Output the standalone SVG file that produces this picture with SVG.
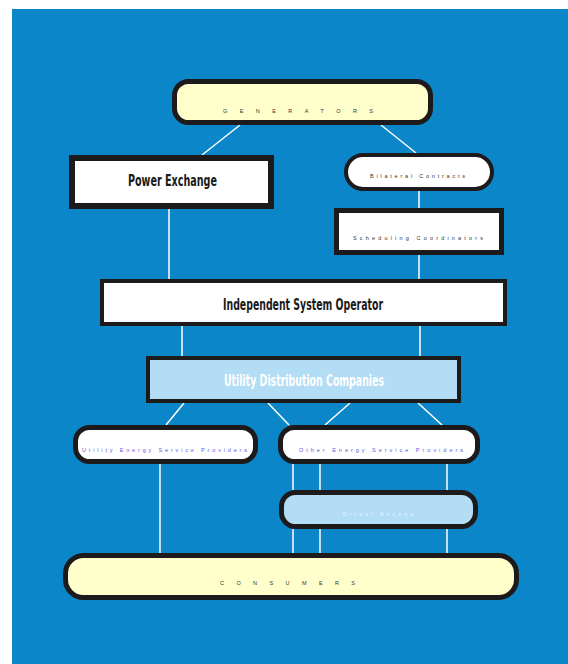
<svg xmlns="http://www.w3.org/2000/svg" width="568" height="664" viewBox="0 0 568 664">
<style>
.box{stroke:#1c1a1a;}
.w{fill:#ffffff;}
.y{fill:#ffffcc;}
.b{fill:#b3dcf5;}
.conn line{stroke:#ffffff;stroke-width:1.5;}
.tiny{font-family:"Liberation Sans",Arial,sans-serif;font-size:5.5px;}
.big{font-family:"DejaVu Sans Condensed","DejaVu Sans",sans-serif;font-size:15px;font-weight:bold;}
</style>
<rect x="12" y="9" width="556" height="655" fill="#0b86c9"/>
<g id="connectors" class="conn">
<line x1="240" y1="125" x2="202" y2="155"/>
<line x1="381" y1="125" x2="416" y2="153"/>
<line x1="169" y1="209" x2="169" y2="279"/>
<line x1="419" y1="191" x2="419" y2="208"/>
<line x1="419" y1="255" x2="419" y2="279"/>
<line x1="182" y1="326" x2="182" y2="356"/>
<line x1="420" y1="326" x2="420" y2="356"/>
<line x1="184" y1="403" x2="166" y2="425"/>
<line x1="268" y1="403" x2="289" y2="425"/>
<line x1="350" y1="403" x2="325" y2="425"/>
<line x1="418" y1="403" x2="442" y2="425"/>
<line x1="160" y1="464" x2="160" y2="553"/>
<line x1="293" y1="464" x2="293" y2="490"/>
<line x1="320" y1="464" x2="320" y2="490"/>
<line x1="447" y1="464" x2="447" y2="490"/>
<line x1="293" y1="529" x2="293" y2="553"/>
<line x1="320" y1="529" x2="320" y2="553"/>
<line x1="447" y1="529" x2="447" y2="553"/>
</g>
<g id="generators">
<rect class="box y" x="174.5" y="81.5" width="256" height="41" rx="14" stroke-width="5"/>
<text class="tiny" x="223" y="113" textLength="150" lengthAdjust="spacing" fill="#333">GENERATORS</text>
</g>
<g id="power-exchange">
<rect class="box w" x="72" y="158" width="199" height="48" stroke-width="6"/>
<text class="big" x="128" y="186" textLength="89" lengthAdjust="spacingAndGlyphs" fill="#1a1a1a">Power Exchange</text>
</g>
<g id="bilateral-contracts">
<rect class="box w" x="346" y="155" width="146" height="34" rx="17" stroke-width="4"/>
<text class="tiny" x="370" y="178" textLength="95" lengthAdjust="spacing" fill="#333">Bilateral Contracts</text>
</g>
<g id="scheduling-coordinators">
<rect class="box w" x="336.5" y="210.5" width="165" height="42" stroke-width="5"/>
<text class="tiny" x="353" y="240" textLength="130" lengthAdjust="spacing" fill="#333">Scheduling Coordinators</text>
</g>
<g id="iso">
<rect class="box w" x="102" y="281" width="403" height="43" stroke-width="4"/>
<text class="big" x="223" y="310" textLength="160" lengthAdjust="spacingAndGlyphs" fill="#1a1a1a">Independent System Operator</text>
</g>
<g id="udc">
<rect class="box b" x="148" y="358" width="311" height="43" stroke-width="4"/>
<text class="big" x="224" y="386" textLength="160" lengthAdjust="spacingAndGlyphs" fill="#ffffff" font-weight="normal">Utility Distribution Companies</text>
</g>
<g id="uesp">
<rect class="box w" x="75.5" y="427.5" width="180" height="34" rx="14" stroke-width="5"/>
<text class="tiny" x="82" y="452" textLength="165" lengthAdjust="spacing" fill="#5a5ae6">Utility Energy Service Providers</text>
</g>
<g id="oesp">
<rect class="box w" x="280.5" y="427.5" width="197" height="34" rx="14" stroke-width="5"/>
<text class="tiny" x="299" y="452" textLength="164" lengthAdjust="spacing" fill="#5a5ae6">Other Energy Service Providers</text>
</g>
<g id="direct-access">
<rect class="box b" x="281.5" y="492.5" width="194" height="34" rx="14" stroke-width="5"/>
<text class="tiny" x="343" y="516" textLength="70" lengthAdjust="spacing" fill="#e8f4fc">Direct Access</text>
</g>
<g id="consumers">
<rect class="box y" x="65.5" y="555.5" width="451" height="42" rx="18" stroke-width="5"/>
<text class="tiny" x="220" y="585" textLength="135" lengthAdjust="spacing" fill="#333">CONSUMERS</text>
</g>
</svg>
